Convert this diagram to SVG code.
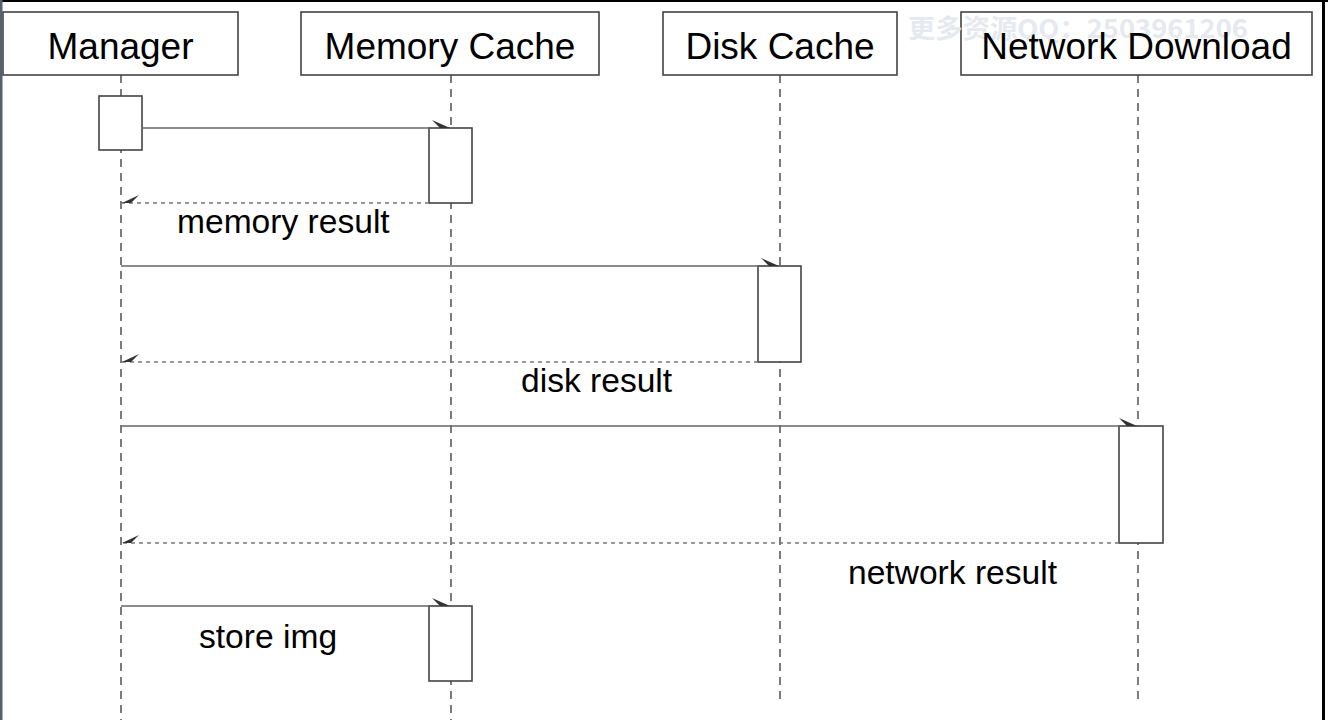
<svg xmlns="http://www.w3.org/2000/svg" width="1328" height="720" viewBox="0 0 1328 720">
<style>
.hdr{fill:#fff;stroke:#444;stroke-width:1.6}
.act{fill:#fff;stroke:#444;stroke-width:1.6}
.life{stroke:#444;stroke-width:1.4;stroke-dasharray:8 6;fill:none}
.call{stroke:#666;stroke-width:1.6;fill:none}
.ret{stroke:#777;stroke-width:1.4;stroke-dasharray:4 4;fill:none}
.head{fill:#333}
.ht{font-family:"Liberation Sans",Arial,sans-serif;font-size:37px;fill:#000;text-anchor:middle}
.lt{font-family:"Liberation Sans",Arial,sans-serif;font-size:33.6px;fill:#000}
</style>
<rect x="0" y="0" width="1328" height="720" fill="#fff"/>
<g id="lifelines">
<line class="life" x1="121" y1="75" x2="121" y2="720"/>
<line class="life" x1="451" y1="75" x2="451" y2="720"/>
<line class="life" x1="780" y1="75" x2="780" y2="700"/>
<line class="life" x1="1138" y1="75" x2="1138" y2="700"/>
</g>
<g id="manager"><rect class="hdr" x="3" y="12" width="235" height="63"/><text class="ht" x="120.5" y="59">Manager</text></g>
<g id="memory-cache"><rect class="hdr" x="301" y="12" width="298" height="63"/><text class="ht" x="450" y="59">Memory Cache</text></g>
<g id="disk-cache"><rect class="hdr" x="663" y="12" width="234" height="63"/><text class="ht" x="780" y="59">Disk Cache</text></g>
<g id="network-download"><rect class="hdr" x="961" y="12" width="351" height="63"/>
<text x="908" y="38" font-family="'Noto Sans CJK SC',sans-serif" font-size="26" font-weight="bold" fill="#e6e9ef" textLength="340" lengthAdjust="spacingAndGlyphs">更多资源QQ：2503961206</text>
<text class="ht" x="1136.5" y="59">Network Download</text></g>
<g id="activations">
<rect id="act-manager" class="act" x="99" y="96" width="43" height="54"/>
<rect id="act-memory1" class="act" x="429" y="128" width="43" height="75"/>
<rect id="act-disk" class="act" x="758" y="266" width="43" height="96"/>
<rect id="act-network" class="act" x="1119" y="426" width="44" height="117"/>
<rect id="act-memory2" class="act" x="429" y="606" width="43" height="75"/>
</g>
<g id="connectors">
<line class="call" x1="142" y1="128" x2="451" y2="128"/>
<polygon class="head" points="450,128 432,120 440,128"/>
<line class="ret" x1="429" y1="203" x2="121" y2="203"/>
<polygon class="head" points="122,203 139,195 131,203"/>
<line class="call" x1="121" y1="266" x2="780" y2="266"/>
<polygon class="head" points="779,266 761,258 769,266"/>
<line class="ret" x1="758" y1="362" x2="121" y2="362"/>
<polygon class="head" points="122,362 139,354 131,362"/>
<line class="call" x1="121" y1="426" x2="1138" y2="426"/>
<polygon class="head" points="1137,426 1119,418 1127,426"/>
<line class="ret" x1="1119" y1="543" x2="121" y2="543"/>
<polygon class="head" points="122,543 139,535 131,543"/>
<line class="call" x1="121" y1="606" x2="451" y2="606"/>
<polygon class="head" points="450,606 432,598 440,606"/>
</g>
<g id="labels">
<text class="lt" x="177" y="233">memory result</text>
<text class="lt" x="521" y="392">disk result</text>
<text class="lt" x="848" y="584">network result</text>
<text class="lt" x="199" y="648">store img</text>
</g>
<rect x="0" y="0" width="1328" height="2" fill="#000"/>
<rect x="0" y="0" width="2.5" height="720" fill="#56606e"/>
<rect x="1322" y="0" width="3" height="720" fill="#000"/>
</svg>
